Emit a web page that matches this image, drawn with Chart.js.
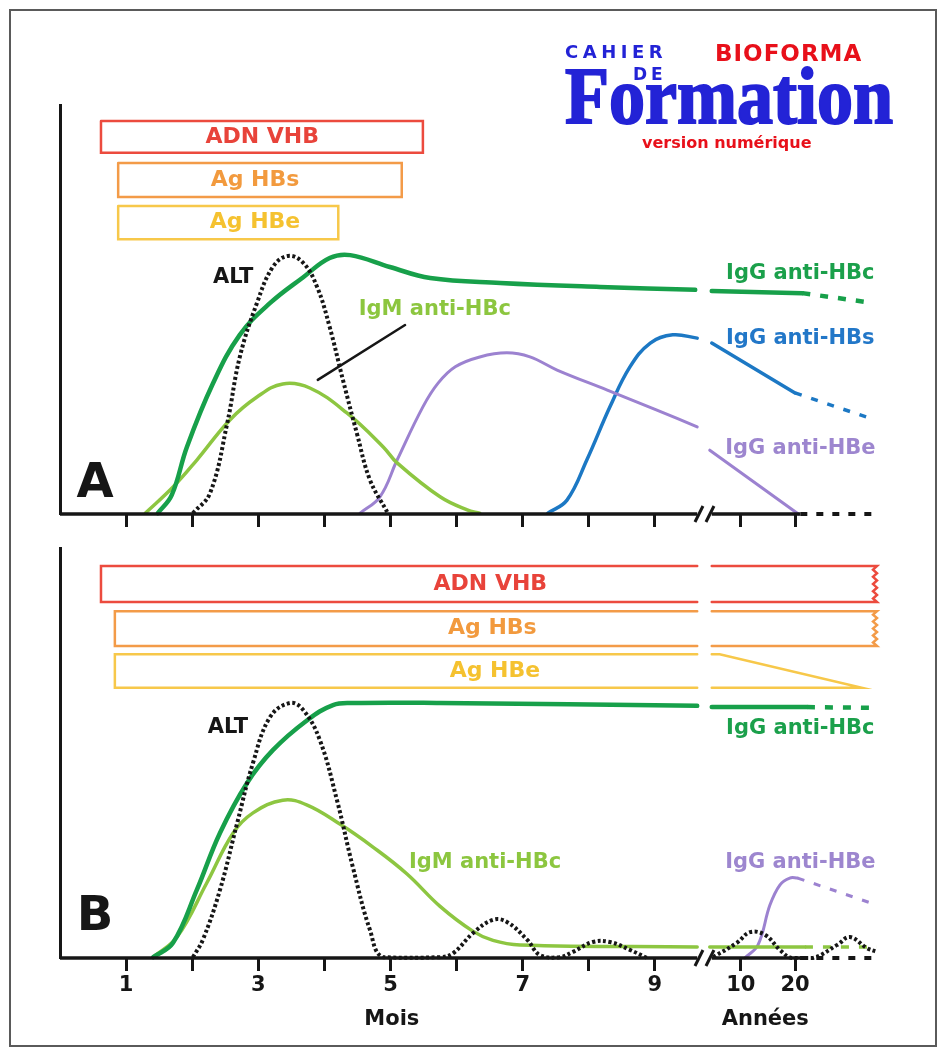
<!DOCTYPE html>
<html><head><meta charset="utf-8">
<script src="https://cdn.jsdelivr.net/npm/chart.js@4.4.1/dist/chart.umd.min.js"></script>
<style>
html,body{margin:0;padding:0;background:#fff;}
#wrap{position:relative;width:939px;height:1057px;overflow:hidden;background:#fff;}
#frame{position:absolute;left:9px;top:9px;width:924px;height:1034px;border:2px solid #5a5a5a;}
canvas{position:absolute;left:0;}
#cA{top:0;}
#cB{top:544px;}
.logo{position:absolute;white-space:nowrap;line-height:1;font-family:"DejaVu Sans";font-weight:bold;}
</style></head>
<body><div id="wrap">
<div id="frame"></div>
<canvas id="cA" width="939" height="544"></canvas>
<canvas id="cB" width="939" height="513"></canvas>
<div class="logo" style="left:565px;top:43px;font-size:18px;letter-spacing:4.5px;color:#2323d6">CAHIER</div>
<div class="logo" style="left:715px;top:42px;font-size:23px;letter-spacing:1px;color:#e8101a">BIOFORMA</div>
<div class="logo" style="left:633px;top:66px;font-size:17px;letter-spacing:4px;color:#2323d6">DE</div>
<div class="logo" style="left:565px;top:56px;font-family:'Liberation Serif';font-size:80px;color:#2323d6;-webkit-text-stroke:2px #2323d6;transform:scaleX(0.9);transform-origin:0 0">Formation</div>
<div class="logo" style="left:642px;top:135px;font-size:16px;color:#e8101a">version numérique</div>
</div>
<script>
// ---------- shared axis values ----------
const X_MAX = 12.36;
const xTickValues = [1, 2, 3, 4, 5, 6, 7, 8, 9, 10.3, 11.12];
const xTickLabelsA = ['', '', '', '', '', '', '', '', '', '', ''];
const xTickLabelsB = ['1', '', '3', '', '5', '', '7', '', '9', '10', '20'];
const xBreakAt = 9.75;
const axisBefore = [[0, 0], [9.64, 0]];
const axisAfter = [[9.86, 0], [11.2, 0]];
const axisTail = [[11.2, 0], [12.36, 0]];
const unitLabels = ['Mois', 'Années'];
const unitLabelX = [5.02, 10.67];

// ---------- Panel A ----------
const igGHBcA = [[1.48,0.2],[1.69,4.6],[1.92,16.4],[2.31,31.8],[2.72,43.8],[3.18,51.6],[3.68,57.9],[4.08,62.6],[4.39,63.3],[4.99,60.4],[5.60,57.7],[6.66,56.5],[8.17,55.5],[9.61,54.8]];
const igGHBcA_late = [[9.86,54.5],[11.23,54.0]];
const igGHBcA_tail = [[11.23,54.0],[12.3,51.6]];
const igMHBcA = [[1.29,0.2],[1.71,6.6],[2.07,13.2],[2.57,23.0],[2.98,28.6],[3.37,31.8],[3.78,30.8],[4.34,24.7],[4.89,16.4],[5.10,12.5],[5.75,4.2],[6.16,1.0],[6.35,0.2]];
const altA = [[2.01,0.2],[2.27,5.1],[2.53,22.2],[2.72,38.4],[2.98,51.6],[3.22,60.4],[3.45,63.1],[3.68,61.4],[3.89,55.5],[4.08,45.7],[4.28,32.8],[4.49,19.8],[4.69,8.3],[4.95,0.5]];
const igMPointerA = [[3.90,32.8],[5.22,46.2]];
const antiHBeA = [[4.54,0.2],[4.84,4.2],[5.10,13.2],[5.49,26.2],[5.72,32.0],[5.98,36.0],[6.35,38.4],[6.76,39.4],[7.11,38.4],[7.52,35.2],[8.28,30.3],[9.03,25.4],[9.64,21.3]];
const antiHBeA_late = [[9.83,15.6],[11.17,0]];
const antiHBsA = [[7.38,0.2],[7.67,3.4],[7.97,13.2],[8.32,26.2],[8.62,35.9],[8.93,41.8],[9.27,43.8],[9.64,43.0]];
const antiHBsA_late = [[9.86,41.8],[11.12,29.6]];
const antiHBsA_tail = [[11.12,29.6],[12.33,23.0]];

const boxNamesA = ['ADN VHB', 'Ag HBs', 'Ag HBe'];
const boxStartA = [0.62, 0.88, 0.88];
const boxEndA = [5.49, 5.17, 4.21];
const boxTopA = [96.1, 85.8, 75.3];
const boxBottomA = [88.3, 77.5, 67.2];
const boxTextXA = [3.06, 2.95, 2.95];

const curveLabelsA = ['ALT', 'IgM anti-HBc', 'IgG anti-HBc', 'IgG anti-HBs', 'IgG anti-HBe'];
const curveLabelXA = [2.62, 5.67, 11.2, 11.2, 11.2];
const curveLabelYA = [57.9, 49.9, 58.9, 43.0, 15.9];

// ---------- Panel B ----------
const igGHBcB = [[1.41,0.2],[1.71,3.7],[2.07,16.6],[2.42,30.5],[2.83,42.7],[3.22,50.7],[3.74,58.0],[4.13,61.7],[4.43,62.2],[5.75,62.2],[9.64,61.5]];
const igGHBcB_late = [[9.86,61.2],[11.30,61.2]];
const igGHBcB_tail = [[11.30,61.2],[12.36,61.0]];
const igMHBcB = [[1.41,0.2],[1.77,5.1],[2.22,18.3],[2.62,30.5],[2.92,35.4],[3.37,38.5],[3.74,37.3],[4.24,32.6],[4.74,27.0],[5.25,20.5],[5.75,12.6],[6.25,6.5],[6.55,4.3],[6.96,3.2],[9.64,2.7]];
const igMHBcB_late = [[9.83,2.7],[11.27,2.7]];
const igMHBcB_tail = [[11.27,2.7],[12.36,2.7]];
const altB = [[2.01,0.2],[2.16,4.4],[2.42,16.6],[2.68,32.9],[2.92,47.6],[3.18,58.8],[3.48,62.2],[3.68,60.5],[3.93,53.2],[4.19,38.5],[4.43,22.2],[4.69,6.8],[4.89,0.2],[5.75,0.2],[5.95,1.2],[6.25,6.1],[6.55,9.3],[6.76,8.8],[7.07,4.4],[7.26,0.7],[7.56,0.2],[7.76,1.5],[8.06,3.9],[8.32,3.9],[8.62,2.0],[8.88,0]];
const altB_late = [[9.88,0.2],[10.24,3.7],[10.44,6.3],[10.67,5.6],[10.89,2.0],[11.07,0],[11.39,0],[11.76,3.2],[11.95,5.1],[12.21,2.4],[12.36,1.5]];
const antiHBeB = [[10.36,0],[10.56,3.2],[10.74,12.9],[10.89,17.8],[11.04,19.5],[11.16,19.5]];
const antiHBeB_tail = [[11.16,19.5],[12.36,12.9]];

const boxNamesB = ['ADN VHB', 'Ag HBs', 'Ag HBe'];
const boxStartB = [0.62, 0.83, 0.83];
const boxEndB = [12.36, 12.36, 12.13];
const boxTopB = [95.6, 84.6, 74.1];
const boxBottomB = [86.8, 76.1, 65.9];
const boxEndStyleB = ['zigzag', 'zigzag', 'taper'];
const boxTaperStartB = 9.98;
const boxTextXB = [6.51, 6.54, 6.58];
const breakGap = [9.64, 9.86];
const zigzagDX = [0, -0.06, 0, -0.06, 0, -0.06, 0, -0.06, 0, -0.06, 0];

const curveLabelsB = ['ALT', 'IgG anti-HBc', 'IgM anti-HBc', 'IgG anti-HBe'];
const curveLabelXB = [2.54, 11.2, 6.43, 11.2];
const curveLabelYB = [56.3, 55.9, 23.4, 23.4];

// ---------- colours ----------
const C = {
  red: '#ec4b3e', orange: '#f39b48', yellow: '#f7c84a',
  dark: '#17a04a', light: '#8dc641', purple: '#9c82d0', blue: '#1c78c4', black: '#161616'
};
const boxColors = [C.red, C.orange, C.yellow];
const boxTextColors = ['#e8433a', '#f29a3e', '#f5c230'];
const curveColorsA = [C.black, '#8cc63f', '#1ba04b', '#2277c8', '#9d86cf'];
const curveColorsB = [C.black, '#1ba04b', '#8cc63f', '#9d86cf'];

// ---------- helpers ----------
const pts = a => a.map(([x, y]) => ({x, y}));
function line(data, color, width, extra) {
  return Object.assign({
    data: pts(data), borderColor: color, borderWidth: width, pointRadius: 0,
    fill: false, tension: 0, clip: false, borderCapStyle: 'round', borderJoinStyle: 'round', order: 3
  }, extra || {});
}
const smooth = {tension: 0.4};
function axisSets() {
  return [
    line(axisBefore, C.black, 3.5, {order: 0, borderCapStyle: 'butt'}),
    line(axisAfter, C.black, 3.5, {order: 0, borderCapStyle: 'butt'}),
    line(axisTail, C.black, 4, {order: 0, borderDash: [7, 9], borderCapStyle: 'butt'})
  ];
}
function boxSetsA() {
  return boxNamesA.map((n, i) => line([
    [boxStartA[i], boxTopA[i]], [boxEndA[i], boxTopA[i]], [boxEndA[i], boxBottomA[i]],
    [boxStartA[i], boxBottomA[i]], [boxStartA[i], boxTopA[i]]
  ], boxColors[i], 2.5, {label: n, order: 5, borderJoinStyle: 'miter'}));
}
function boxSetsB() {
  const out = [];
  boxNamesB.forEach((n, i) => {
    const t = boxTopB[i], b = boxBottomB[i];
    out.push(line([[breakGap[0], t], [boxStartB[i], t], [boxStartB[i], b], [breakGap[0], b]],
      boxColors[i], 2.5, {label: n, order: 5, borderJoinStyle: 'miter'}));
    let right;
    if (boxEndStyleB[i] === 'zigzag') {
      const zz = zigzagDX.map((dx, k) => [boxEndB[i] + dx, t + (b - t) * k / (zigzagDX.length - 1)]);
      right = [[breakGap[1], t], ...zz, [breakGap[1], b]];
    } else {
      right = [[breakGap[1], t], [boxTaperStartB, t], [boxEndB[i], b], [breakGap[1], b]];
    }
    out.push(line(right, boxColors[i], 2.5, {label: n, order: 5, borderJoinStyle: 'miter'}));
  });
  return out;
}

const annotPlugin = {
  id: 'annot',
  afterDatasetsDraw(chart, args, opts) {
    const {ctx, scales: {x, y}} = chart;
    ctx.save();
    const bx = x.getPixelForValue(opts.breakAt), by = y.getPixelForValue(0);
    ctx.strokeStyle = C.black; ctx.lineWidth = 3; ctx.lineCap = 'butt';
    [-5.5, 5.5].forEach(d => {
      ctx.beginPath(); ctx.moveTo(bx + d - 4, by + 8); ctx.lineTo(bx + d + 4, by - 8); ctx.stroke();
    });
    ctx.textAlign = 'center'; ctx.textBaseline = 'middle';
    opts.texts.forEach(t => {
      ctx.font = 'bold ' + t.size + 'px "DejaVu Sans"';
      ctx.fillStyle = t.color;
      ctx.fillText(t.text, x.getPixelForValue(t.x), y.getPixelForValue(t.y));
    });
    (opts.units || []).forEach(u => {
      ctx.font = 'bold 21px "DejaVu Sans"'; ctx.fillStyle = C.black;
      ctx.fillText(u.text, x.getPixelForValue(u.x), by + 62);
    });
    ctx.restore();
  }
};

function makeOptions(tickLabels, padTop, xHeight, texts, units) {
  return {
    responsive: false, animation: false, events: [],
    layout: {padding: {left: 60, right: 62, top: padTop, bottom: 0}},
    plugins: {legend: {display: false}, tooltip: {enabled: false},
      annot: {breakAt: xBreakAt, texts: texts, units: units}},
    scales: {
      x: {
        type: 'linear', min: 0, max: X_MAX,
        afterBuildTicks: s => { s.ticks = xTickValues.map(v => ({value: v})); },
        afterFit: s => { s.height = xHeight; s.paddingLeft = 0; s.paddingRight = 0; },
        ticks: {autoSkip: false, maxRotation: 0, minRotation: 0, padding: 2,
          callback: (v, i) => tickLabels[i],
          font: {family: 'DejaVu Sans', size: 21, weight: 'bold'}, color: C.black},
        grid: {display: true, drawOnChartArea: false, drawTicks: true, tickLength: 13, lineWidth: 3, color: C.black},
        border: {display: false}
      },
      y: {
        type: 'linear', min: 0, max: 100,
        afterFit: s => { s.width = 0; },
        ticks: {display: false}, grid: {display: false},
        border: {display: true, width: 3, color: C.black}
      }
    }
  };
}

// ---------- Chart A ----------
const textsA = [
  ...boxNamesA.map((n, i) => ({text: n, x: boxTextXA[i], y: (boxTopA[i] + boxBottomA[i]) / 2, color: boxTextColors[i], size: 22})),
  ...curveLabelsA.map((n, i) => ({text: n, x: curveLabelXA[i], y: curveLabelYA[i], color: curveColorsA[i], size: 21})),
  {text: 'A', x: 0.53, y: 7.3, color: C.black, size: 48}
];
new Chart(document.getElementById('cA'), {
  type: 'line',
  data: {datasets: [
    ...axisSets(),
    ...boxSetsA(),
    line(igGHBcA, C.dark, 4.5, Object.assign({label: 'IgG anti-HBc', order: 2}, smooth)),
    line(igGHBcA_late, C.dark, 4.5, {order: 2}),
    line(igGHBcA_tail, C.dark, 4.5, {order: 2, borderDash: [8, 10], borderCapStyle: 'butt'}),
    line(igMHBcA, C.light, 3.5, Object.assign({label: 'IgM anti-HBc'}, smooth)),
    line(altA, C.black, 4, Object.assign({label: 'ALT', borderDash: [3, 2.5], borderCapStyle: 'butt', order: 1}, smooth)),
    line(igMPointerA, C.black, 2.5, {order: 1}),
    line(antiHBeA, C.purple, 3, Object.assign({label: 'IgG anti-HBe'}, smooth)),
    line(antiHBeA_late, C.purple, 3),
    line(antiHBsA, C.blue, 3.5, Object.assign({label: 'IgG anti-HBs'}, smooth)),
    line(antiHBsA_late, C.blue, 3.5),
    line(antiHBsA_tail, C.blue, 3.5, {borderDash: [7, 10], borderCapStyle: 'butt'})
  ]},
  options: makeOptions(xTickLabelsA, 105, 30, textsA, []),
  plugins: [annotPlugin]
});

// ---------- Chart B ----------
const textsB = [
  ...boxNamesB.map((n, i) => ({text: n, x: boxTextXB[i], y: (boxTopB[i] + boxBottomB[i]) / 2, color: boxTextColors[i], size: 22})),
  ...curveLabelsB.map((n, i) => ({text: n, x: curveLabelXB[i], y: curveLabelYB[i], color: curveColorsB[i], size: 21})),
  {text: 'B', x: 0.53, y: 9.8, color: C.black, size: 48}
];
new Chart(document.getElementById('cB'), {
  type: 'line',
  data: {datasets: [
    ...axisSets(),
    ...boxSetsB(),
    line(igGHBcB, C.dark, 4.5, Object.assign({label: 'IgG anti-HBc', order: 2}, smooth)),
    line(igGHBcB_late, C.dark, 4.5, {order: 2}),
    line(igGHBcB_tail, C.dark, 4.5, {order: 2, borderDash: [8, 10], borderCapStyle: 'butt'}),
    line(igMHBcB, C.light, 3.5, Object.assign({label: 'IgM anti-HBc'}, smooth)),
    line(igMHBcB_late, C.light, 3.5),
    line(igMHBcB_tail, C.light, 3.5, {borderDash: [8, 10], borderCapStyle: 'butt'}),
    line(altB, C.black, 4, Object.assign({label: 'ALT', borderDash: [3, 2.5], borderCapStyle: 'butt', order: 1}, smooth)),
    line(altB_late, C.black, 4, Object.assign({borderDash: [3, 2.5], borderCapStyle: 'butt', order: 1}, smooth)),
    line(antiHBeB, C.purple, 3, Object.assign({label: 'IgG anti-HBe'}, smooth)),
    line(antiHBeB_tail, C.purple, 3, {borderDash: [7, 10], borderCapStyle: 'butt'})
  ]},
  options: makeOptions(xTickLabelsB, 4, 99, textsB, unitLabels.map((u, i) => ({text: u, x: unitLabelX[i]}))),
  plugins: [annotPlugin]
});
</script>
</body></html>
